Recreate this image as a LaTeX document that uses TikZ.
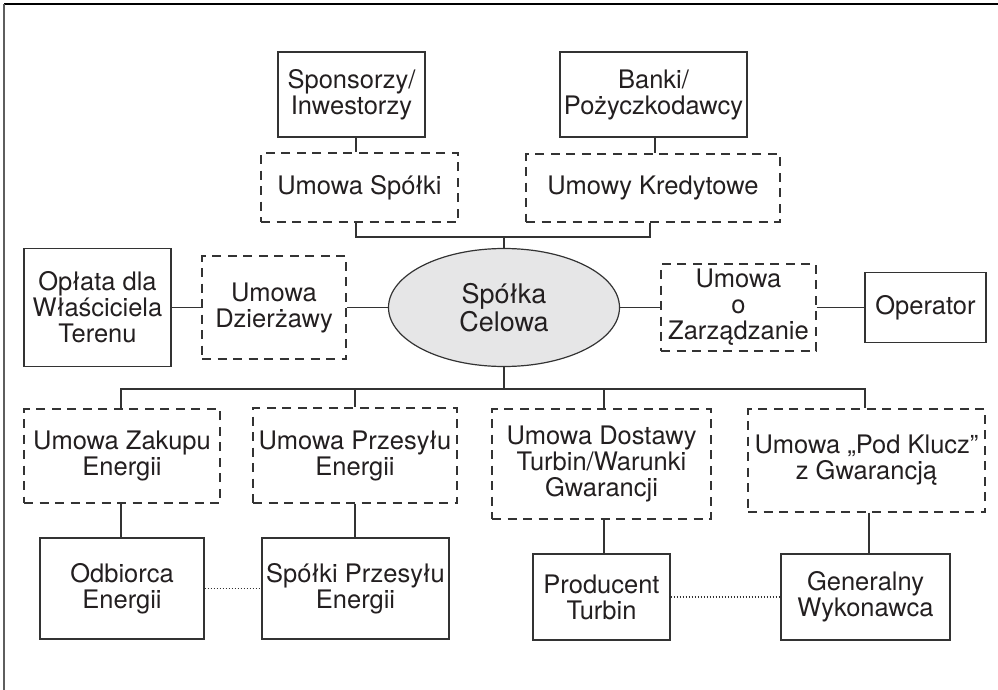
\documentclass[tikz,border=0pt]{standalone}
\usepackage{fontspec}
\setmainfont{TeX Gyre Heros}
\usetikzlibrary{shapes.geometric}
\definecolor{ink}{HTML}{231F20}
\definecolor{edge}{HTML}{333333}
\definecolor{hub}{HTML}{E6E6E7}
\definecolor{framegray}{HTML}{5E5E5E}

\begin{document}
\begin{tikzpicture}[x=1pt,y=-1pt,
  every node/.style={font=\fontsize{25.5}{26}\selectfont, text=ink, align=center, inner sep=0pt},
  party/.style={draw=edge, line width=1.3pt, rectangle},
  deal/.style={draw=edge, line width=1.2pt, dash pattern=on 9pt off 6.5pt, rectangle},
  link/.style={draw=edge, line width=1.3pt},
  tie/.style={draw=edge, line width=1.2pt, dash pattern=on 1.5pt off 1.5pt},
  hubnode/.style={ellipse, draw=edge, fill=hub, line width=1.2pt,
    font=\fontsize{27}{28}\selectfont}
]
\useasboundingbox (0,0) rectangle (998,690);

% page frame (top and left edges)
\draw[black, line width=1.3pt] (4,4) -- (998,4);
\draw[framegray, line width=1.6pt] (4,4) -- (4,690);

% top row: owners and lenders
\node[party, minimum width=147, minimum height=85] (sponsor) at (351.5,94.5) {Sponsorzy/\\Inwestorzy};
\node[party, minimum width=187, minimum height=85] (banki) at (653.5,94.5) {Banki/\\Pożyczkodawcy};
\node[deal, minimum width=197, minimum height=69] (spolki) at (359.5,187.5) {Umowa Spółki};
\node[deal, minimum width=254, minimum height=68] (kred) at (653,188) {Umowy Kredytowe};

% middle row
\node[hubnode, minimum width=231, minimum height=118] (spv) at (504,307.5) {Spółka\\Celowa};
\node[party, minimum width=147, minimum height=118] (oplata) at (97.5,307.5) {Opłata dla\\Właściciela\\Terenu};
\node[deal, minimum width=144, minimum height=103] (dzierz) at (274,307.5) {Umowa\\Dzierżawy};
\node[deal, minimum width=155, minimum height=87] (zarz) at (738.5,307.5) {Umowa\\o\\Zarządzanie};
\node[party, minimum width=121, minimum height=70] (oper) at (925.5,307.5) {Operator};

% contracts below the hub
\node[deal, minimum width=196, minimum height=94] (zakup) at (122,456) {Umowa Zakupu\\Energii};
\node[deal, minimum width=204, minimum height=95] (przes) at (355,455.5) {Umowa Przesyłu\\Energii};
\node[deal, minimum width=219, minimum height=110] (dost) at (601.5,464) {Umowa Dostawy\\Turbin/Warunki\\Gwarancji};
\node[deal, minimum width=237, minimum height=103] (klucz) at (866.5,460.5) {Umowa „Pod Klucz”\\z Gwarancją};

% counterparties
\node[party, minimum width=164, minimum height=101] (odb) at (122,588.5) {Odbiorca\\Energii};
\node[party, minimum width=187, minimum height=101] (spt) at (355.5,588.5) {Spółki Przesyłu\\Energii};
\node[party, minimum width=137, minimum height=86] (prod) at (601.5,597) {Producent\\Turbin};
\node[party, minimum width=169, minimum height=86] (gw) at (865.5,597) {Generalny\\Wykonawca};

% junction points of the connector buses
\coordinate (tL) at (356,0);
\coordinate (tR) at (655,0);
\coordinate (tR2) at (650,0);
\coordinate (bt) at (504,237);
\coordinate (bb) at (504,389);
\coordinate (c1) at (121,0);
\coordinate (c2) at (355,0);
\coordinate (c3) at (604,0);
\coordinate (c4) at (865,0);
\coordinate (d4) at (869,0);

% upper connectors
\draw[link] (sponsor.south -| tL) -- (spolki.north -| tL);
\draw[link] (banki.south -| tR) -- (kred.north -| tR);
\draw[link] (spolki.south -| tL) |- (bt) -| (kred.south -| tR2);
\draw[link] (bt) -- (spv.north);

% side connectors
\draw[link] (oplata.east) -- (dzierz.west);
\draw[link] (dzierz.east) -- (spv.west);
\draw[link] (spv.east) -- (zarz.west);
\draw[link] (zarz.east) -- (oper.west);

% lower bus
\draw[link] (spv.south) -- (bb);
\draw[link] (zakup.north -| c1) |- (bb) -| (klucz.north -| c4);
\draw[link] (bb -| c2) -- (przes.north -| c2);
\draw[link] (bb -| c3) -- (dost.north -| c3);

% contracts to counterparties
\draw[link] (zakup.south -| c1) -- (odb.north -| c1);
\draw[link] (przes.south -| c2) -- (spt.north -| c2);
\draw[link] (dost.south -| c3) -- (prod.north -| c3);
\draw[link] (klucz.south -| d4) -- (gw.north -| d4);

% dotted links between counterparties
\draw[tie] (odb.east) -- (spt.west);
\draw[tie] (prod.east) -- (gw.west);
\end{tikzpicture}
\end{document}
